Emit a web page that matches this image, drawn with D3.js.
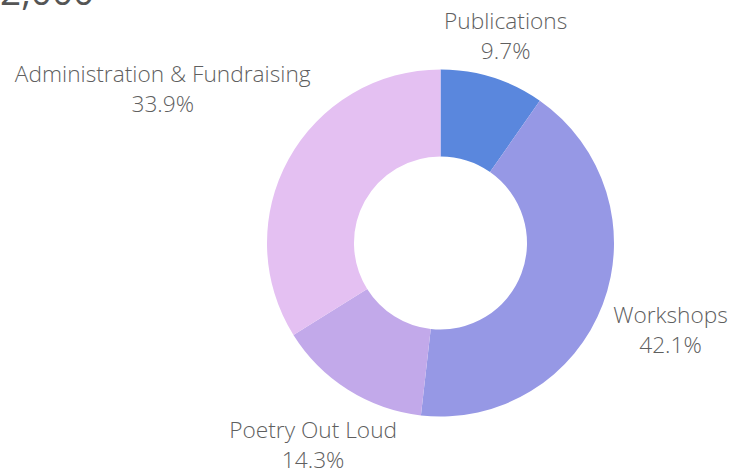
<!DOCTYPE html>
<html>
<head>
<meta charset="utf-8">
<script src="https://cdn.jsdelivr.net/npm/d3@7"></script>
<style>
  html, body { margin: 0; padding: 0; background: #fff; }
  svg { display: block; }
  text { font-family: "Open Sans", sans-serif; }
</style>
</head>
<body>
<svg id="chart"></svg>
<script>
// 图表尺寸
var width = 745;
var height = 475;

// 数据
var categories = ["Publications", "Workshops", "Poetry Out Loud", "Administration & Fundraising"];
var shares = [9.7, 42.1, 14.3, 33.9];
var colors = ["#5a87dd", "#9698e5", "#c2a9ea", "#e4c0f2"];
var titleText = "2,000";

var cx = 440.5, cy = 243;
var outerR = 173.5, innerR = 86.5;
var labelR = 184;    // 标签文字框最近点到圆心的距离
var fontSize = 22.7;
var lineGap = 30;

var svg = d3.select("#chart")
    .attr("width", width)
    .attr("height", height);

// 顶部被裁掉的大标题
svg.append("text")
    .attr("x", 0)
    .attr("y", 5)
    .attr("fill", "#555")
    .attr("font-size", 37)
    .attr("font-weight", 500)
    .text(titleText);

var data = categories.map((c, i) => ({name: c, value: shares[i], color: colors[i]}));

var pie = d3.pie()
    .sort(null)
    .value(d => d.value);

var arc = d3.arc()
    .innerRadius(innerR)
    .outerRadius(outerR);

var arcs = pie(data);

var g = svg.append("g")
    .attr("transform", `translate(${cx},${cy})`);

g.selectAll("path")
    .data(arcs)
    .enter().append("path")
    .attr("fill", d => d.data.color)
    .attr("d", arc);

// 标签：沿半径方向推出，直到文字框最近点离圆心 labelR
var fmt = d3.format(".1f");
arcs.forEach(a => {
    var mid = (a.startAngle + a.endAngle) / 2;
    var dx = Math.sin(mid), dy = -Math.cos(mid);

    var lg = g.append("g");
    var t = lg.append("text")
        .attr("text-anchor", "middle")
        .attr("fill", "#5f5f5f")
        .attr("font-size", fontSize)
        .attr("font-weight", 300);
    t.append("tspan").attr("x", 0).attr("y", 0).text(a.data.name);
    t.append("tspan").attr("x", 0).attr("y", lineGap).text(fmt(a.data.value) + "%");

    // 文字框：宽度取 bbox，高度取首行字顶到末行基线
    var bb = lg.node().getBBox();
    var top = -0.73 * fontSize, bottom = lineGap;
    var bw = bb.width / 2, bh = (bottom - top) / 2;
    var ox = bb.x + bw, oy = (top + bottom) / 2;

    function nearest(dist) {
        var px = dist * dx, py = dist * dy;
        var qx = Math.max(px - bw, Math.min(0, px + bw));
        var qy = Math.max(py - bh, Math.min(0, py + bh));
        return Math.sqrt(qx * qx + qy * qy);
    }
    var lo = 0, hi = 600;
    for (var k = 0; k < 60; k++) {
        var m = (lo + hi) / 2;
        if (nearest(m) < labelR) lo = m; else hi = m;
    }
    lg.attr("transform", `translate(${hi * dx - ox},${hi * dy - oy})`);
});
</script>
</body>
</html>
